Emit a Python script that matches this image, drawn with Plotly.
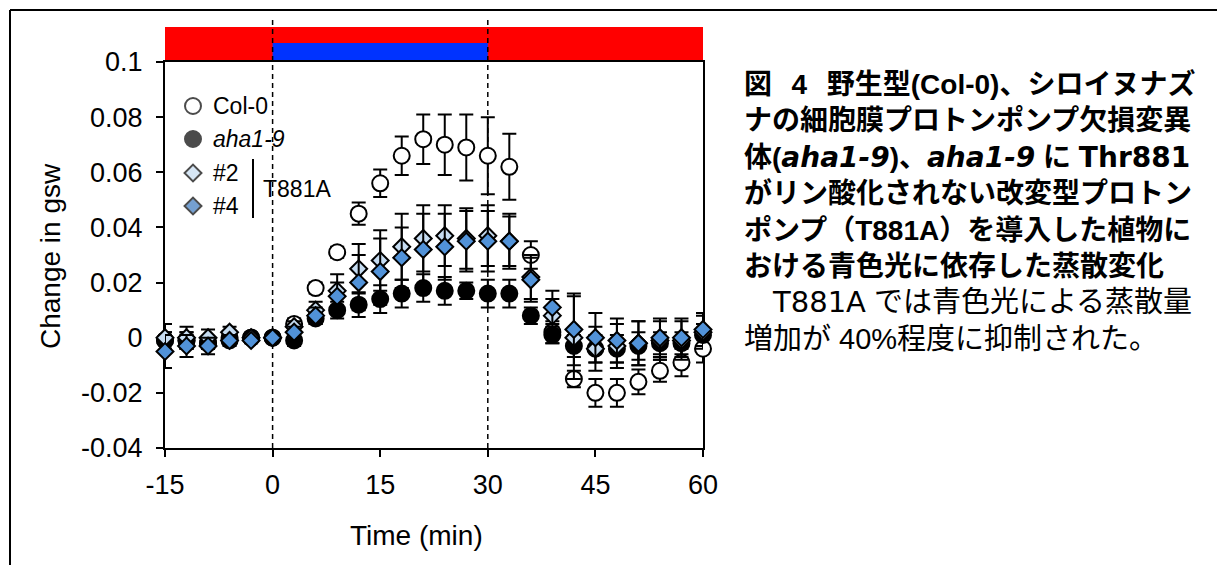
import plotly.graph_objects as go

# ---------------- data ----------------
time_min = [-15, -12, -9, -6, -3, 0, 3, 6, 9, 12, 15, 18, 21, 24, 27, 30,
            33, 36, 39, 42, 45, 48, 51, 54, 57, 60]

col0_mean = [-0.001, -0.001, -0.002, 0.000, 0.000, 0.000, 0.005, 0.018, 0.031, 0.045,
             0.056, 0.066, 0.072, 0.070, 0.069, 0.066, 0.062, 0.030, 0.002, -0.015,
             -0.020, -0.020, -0.016, -0.012, -0.009, -0.004]
col0_se = [0.003, 0.003, 0.002, 0.002, 0.001, 0.000, 0.002, 0.002, 0.002, 0.004,
           0.005, 0.007, 0.009, 0.011, 0.012, 0.014, 0.012, 0.005, 0.004, 0.003,
           0.005, 0.005, 0.0045, 0.004, 0.005, 0.005]

aha_mean = [-0.001, -0.001, -0.002, -0.001, 0.000, 0.000, -0.001, 0.007, 0.010, 0.012,
            0.014, 0.016, 0.018, 0.017, 0.017, 0.016, 0.016, 0.008, 0.001, -0.003,
            -0.004, -0.004, -0.003, -0.002, -0.002, 0.001]
aha_se = [0.003, 0.003, 0.002, 0.001, 0.001, 0.000, 0.002, 0.002, 0.003, 0.0045,
          0.005, 0.005, 0.005, 0.005, 0.003, 0.005, 0.005, 0.003, 0.003, 0.004,
          0.005, 0.005, 0.005, 0.004, 0.004, 0.004]

t2_mean = [0.000, 0.000, 0.000, 0.002, 0.000, 0.000, 0.004, 0.010, 0.017, 0.025,
           0.028, 0.033, 0.036, 0.037, 0.036, 0.037, 0.035, 0.022, 0.008, 0.000,
           -0.004, -0.003, -0.002, -0.001, -0.001, 0.002]
t2_se = [0.005, 0.004, 0.003, 0.002, 0.001, 0.000, 0.002, 0.003, 0.006, 0.009,
         0.011, 0.012, 0.012, 0.011, 0.011, 0.011, 0.009, 0.008, 0.006, 0.015,
         0.008, 0.008, 0.008, 0.007, 0.007, 0.006]

t4_mean = [-0.005, -0.003, -0.003, -0.001, -0.001, 0.000, 0.002, 0.008, 0.015, 0.020,
           0.024, 0.029, 0.032, 0.033, 0.035, 0.035, 0.035, 0.021, 0.011, 0.003,
           0.000, -0.001, -0.002, 0.000, 0.000, 0.003]
t4_se = [0.006, 0.004, 0.003, 0.002, 0.001, 0.000, 0.002, 0.003, 0.005, 0.010,
         0.012, 0.011, 0.013, 0.012, 0.011, 0.011, 0.010, 0.008, 0.006, 0.013,
         0.009, 0.008, 0.008, 0.007, 0.007, 0.006]

x_ticks = [-15, 0, 15, 30, 45, 60]
x_ticktext = ["-15", "0", "15", "30", "45", "60"]
y_ticks = [-0.04, -0.02, 0, 0.02, 0.04, 0.06, 0.08, 0.1]
y_ticktext = ["-0.04", "-0.02", "0", "0.02", "0.04", "0.06", "0.08", "0.1"]

legend_names = ["Col-0", "<i>aha1-9</i>", "#2", "#4"]
light_on = [-15, 60]   # red light period
blue_on = [0, 30]      # blue light period

LATW = "<span style='font-family:DejaVu Sans'>{}</span>"
caption_bold = [
    "図\u2002\u20094\u2002\u2009野生型(Col-0)、シロイヌナズ",
    "ナの細胞膜プロトンポンプ欠損変異",
    "体(<i>" + LATW.format("aha1-9") + "</i>)、<i>" + LATW.format("aha1-9")
    + "</i> に " + LATW.format("Thr881"),
    "がリン酸化されない改変型プロトン",
    "ポンプ（T881A）を導入した植物に",
    "おける青色光に依存した蒸散変化",
]
caption_body = [
    "\u3000" + LATW.format("T881A") + " では青色光による蒸散量",
    "増加が 40%程度に抑制された。",
]

# ---------------- layout geometry ----------------
# page body has an 8px margin; the figure is placed at (8, 8)
OFF = 8
W, H = 1225 - OFF, 565 - OFF
L, R, T, B = 165, 703, 62, 448   # plot area in screen pixels


def px(xp):
    return (xp - L) / (R - L)


def py(yp):
    return (B - yp) / (B - T)


LAT = "Liberation Sans, Arial, sans-serif"
# Latin face first (compact line box), CJK glyphs fall back to Noto Sans CJK JP
CAP = "Liberation Sans, Noto Sans CJK JP, sans-serif"

fig = go.Figure()

series = [
    (col0_mean, col0_se, "circle", 16, "white"),
    (aha_mean, aha_se, "circle", 16, "black"),
    (t2_mean, t2_se, "diamond", 13, "#C6DCF1"),
    (t4_mean, t4_se, "diamond", 13, "#5192D8"),
]
for (m, s, sym, size, col), name in zip(series, legend_names):
    fig.add_trace(go.Scatter(
        x=time_min, y=m, mode="markers", name=name, showlegend=False,
        cliponaxis=False,
        marker=dict(symbol=sym, size=size, color=col,
                    line=dict(color="black", width=2)),
        error_y=dict(type="data", array=s, color="black", thickness=2, width=7),
    ))

# manual legend glyphs on an overlay axis (paper-like 0..1)
leg_y = [py(106), py(139), py(173), py(206)]
leg_syms = [("circle", 16, "white"), ("circle", 16, "black"),
            ("diamond", 13, "#C6DCF1"), ("diamond", 13, "#3B78BE")]
fig.add_trace(go.Scatter(
    x=[px(193)] * 4, y=leg_y, mode="markers", showlegend=False,
    xaxis="x2", yaxis="y2", cliponaxis=False, hoverinfo="skip",
    marker=dict(symbol=[s[0] for s in leg_syms], size=[s[1] for s in leg_syms],
                color=[s[2] for s in leg_syms], line=dict(color="black", width=2)),
))

annotations = []
for name, yy in zip(legend_names, leg_y):
    annotations.append(dict(xref="paper", yref="paper", x=px(211), y=yy,
                            text=name, showarrow=False, xanchor="left",
                            yanchor="middle", font=dict(family=LAT, size=23, color="black")))
annotations.append(dict(xref="paper", yref="paper", x=px(261), y=py(189),
                        text="T881A", showarrow=False, xanchor="left",
                        yanchor="middle", font=dict(family=LAT, size=23, color="black")))

# axis titles
annotations.append(dict(xref="paper", yref="paper", x=px(416), y=py(535),
                        text="Time (min)", showarrow=False, xanchor="center",
                        yanchor="middle", font=dict(family=LAT, size=28, color="black")))
annotations.append(dict(xref="paper", yref="paper", x=px(50), y=py(256),
                        text="Change in gsw", showarrow=False, textangle=-90,
                        xanchor="center", yanchor="middle",
                        font=dict(family=LAT, size=28, color="black")))

# caption: bold heading lines followed by regular body lines, one text block
caption_lines = (["<b>" + t + "</b>" for t in caption_bold]
                 + ["<span style='font-size:29px'>" + t + "</span>" for t in caption_body])
annotations.append(dict(xref="paper", yref="paper", x=px(742), y=py(211),
                        text="<br>".join(caption_lines),
                        showarrow=False, xanchor="left", yanchor="middle",
                        align="left",
                        font=dict(family=CAP, size=28, color="black")))

shapes = [
    # light-treatment bars
    dict(type="rect", xref="x", yref="paper", x0=light_on[0], x1=light_on[1],
         y0=1, y1=py(27), fillcolor="#FF0000", line=dict(width=0), layer="below"),
    dict(type="rect", xref="x", yref="paper", x0=blue_on[0], x1=blue_on[1],
         y0=1, y1=py(43), fillcolor="#0033FF", line=dict(width=0), layer="below"),
    # dashed markers for blue light on/off
    dict(type="line", xref="x", yref="paper", x0=blue_on[0], x1=blue_on[0],
         y0=0, y1=py(20), line=dict(color="black", width=1.5, dash="5px,4px"),
         layer="below"),
    dict(type="line", xref="x", yref="paper", x0=blue_on[1], x1=blue_on[1],
         y0=0, y1=py(20), line=dict(color="black", width=1.5, dash="5px,4px"),
         layer="below"),
    # legend bracket
    dict(type="line", xref="paper", yref="paper", x0=px(253), x1=px(253),
         y0=py(159), y1=py(218), line=dict(color="black", width=2)),
    # outer panel border
    dict(type="line", xref="paper", yref="paper", x0=px(10), x1=px(1240),
         y0=py(10), y1=py(10), line=dict(color="black", width=2)),
    dict(type="line", xref="paper", yref="paper", x0=px(10), x1=px(10),
         y0=py(10), y1=py(580), line=dict(color="black", width=2)),
]

fig.update_layout(
    width=W, height=H,
    margin=dict(l=L - OFF, r=W - (R - OFF), t=T - OFF, b=H - (B - OFF), pad=0),
    paper_bgcolor="white", plot_bgcolor="white",
    showlegend=False,
    font=dict(family=LAT, color="black"),
    xaxis=dict(range=[-15, 60], tickvals=x_ticks, ticktext=x_ticktext,
               ticks="outside", ticklen=7,
               tickwidth=2, tickcolor="black", showline=True, linewidth=2,
               linecolor="black", mirror=True, showgrid=False, zeroline=False,
               tickfont=dict(family=LAT, size=27, color="black"),
               ticklabelstandoff=5, layer="below traces"),
    yaxis=dict(range=[-0.04, 0.1], tickvals=y_ticks, ticktext=y_ticktext,
               ticks="outside", ticklen=7, tickwidth=2, tickcolor="black",
               showline=True, linewidth=2, linecolor="black", mirror=True,
               showgrid=False, zeroline=False,
               tickfont=dict(family=LAT, size=27, color="black"),
               ticklabelstandoff=8, layer="below traces"),
    xaxis2=dict(overlaying="x", range=[0, 1], visible=False, fixedrange=True),
    yaxis2=dict(overlaying="y", range=[0, 1], visible=False, fixedrange=True),
    shapes=shapes,
    annotations=annotations,
)

fig.write_html("out.html")
